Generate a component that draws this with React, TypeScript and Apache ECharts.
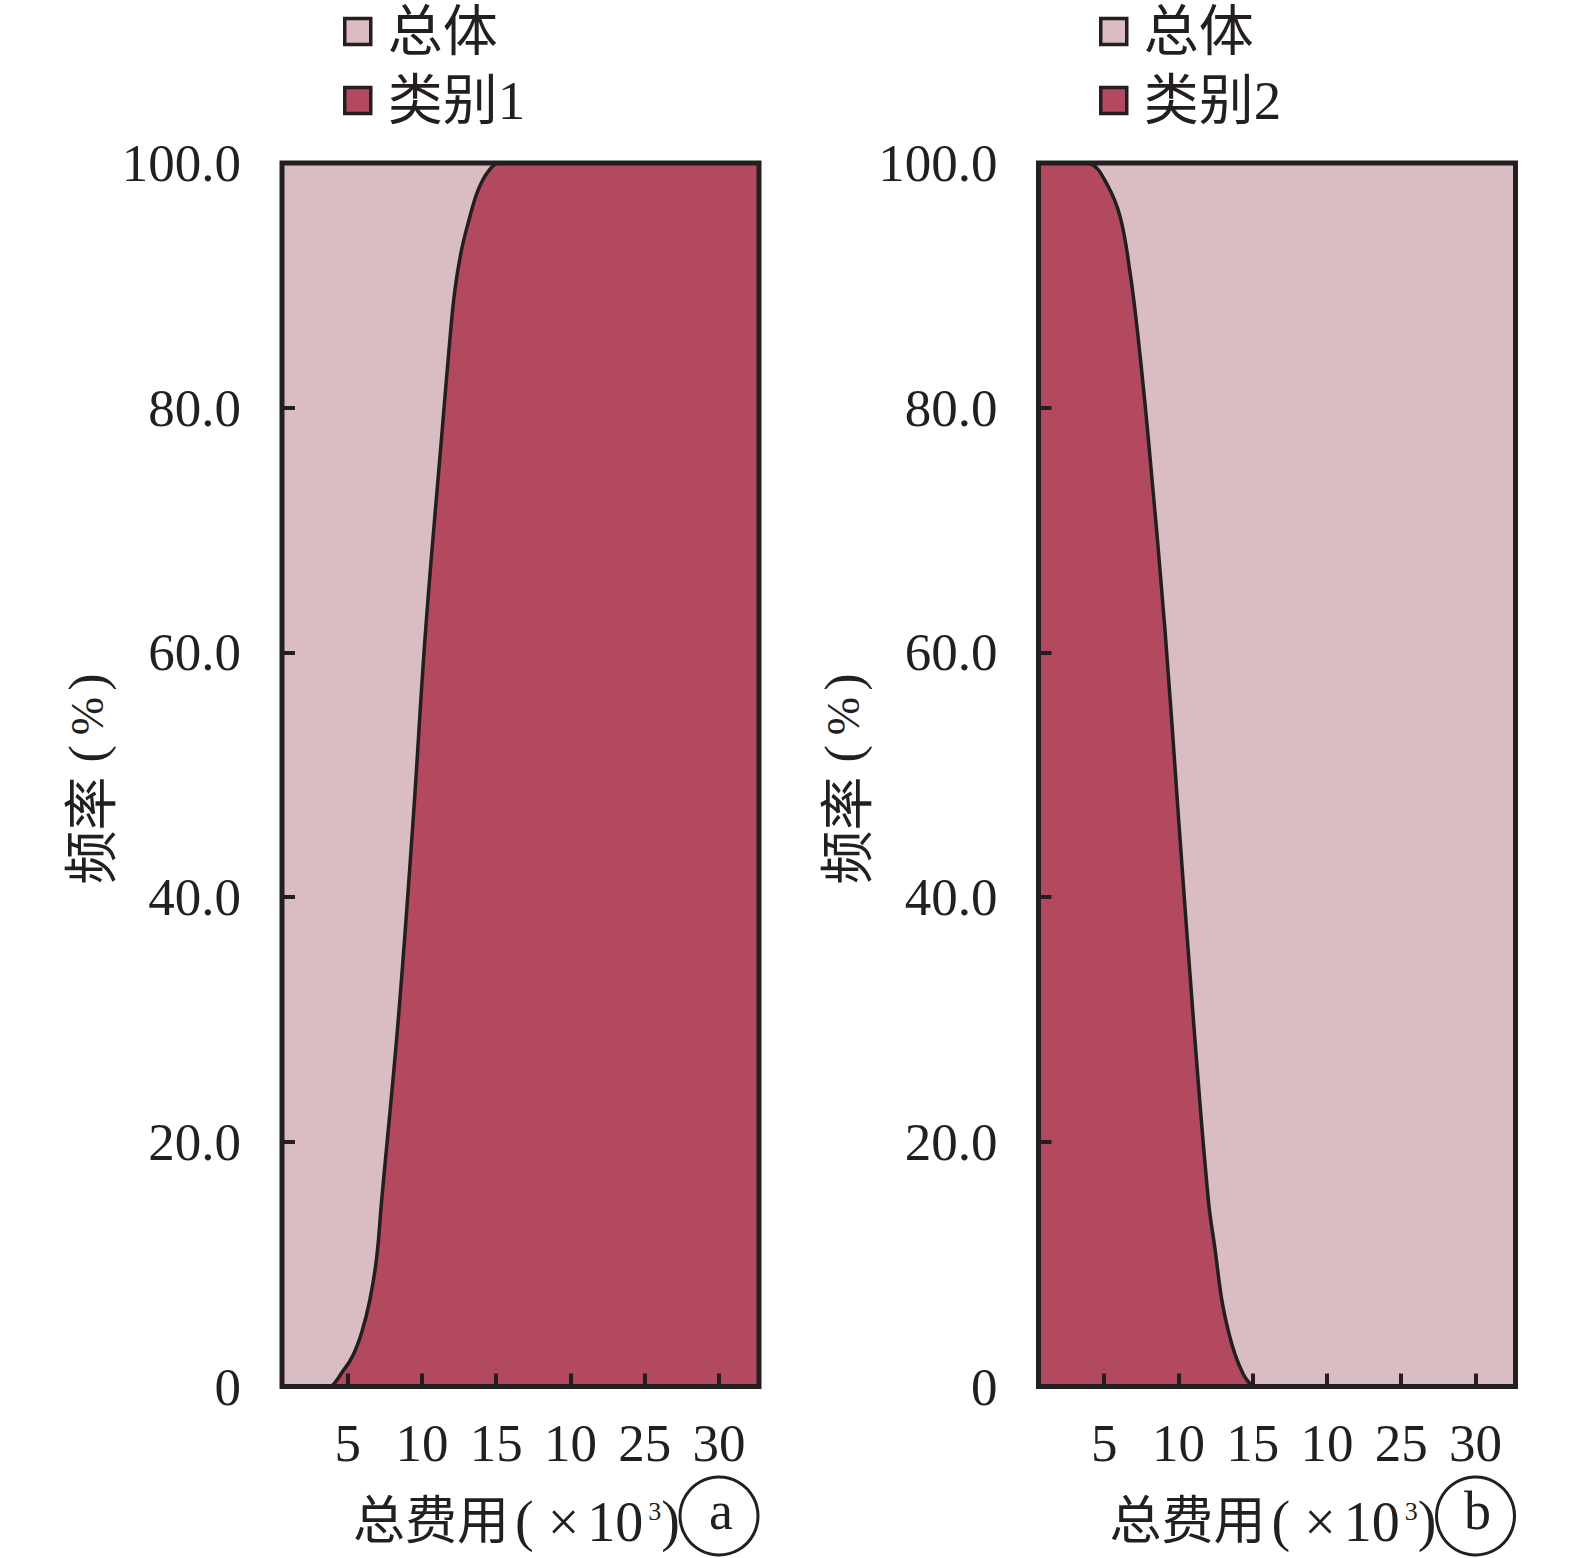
import React, { useEffect, useRef } from "react";
import * as echarts from "echarts";

// ---- data ----
const xTickValues = [5, 10, 15, 20, 25, 30];
const xTickLabels = ["5", "10", "15", "10", "25", "30"];
const yTickValues = [0, 20, 40, 60, 80, 100];
const legendNames1 = ["总体", "类别1"];
const legendNames2 = ["总体", "类别2"];
const xAxisTitle = "总费用";
const xUnitTimes = "×";
const xUnitBase = "10";
const xUnitExp = "3";
const yAxisTitle = "频率";
const yUnit = "%";
const panelTags = ["a", "b"];

// overall (background) series: 100% over the whole range
const overall: [number, number][] = [
  [0.58, 100],
  [32.7, 100],
];

// 类别1: cumulative share rising with cost
const cat1: [number, number][] = [
  [0.58, 0], [3.5, 0], [3.9, 0.05], [4.26, 0.5], [4.59, 1.1], [5.3, 2.4],
  [5.94, 4.4], [6.5, 7.1], [6.95, 10.5], [7.29, 15.2], [8.41, 30],
  [9.41, 46.3], [10.25, 61.8], [11.37, 78.2], [11.88, 85.5], [12.22, 89.6],
  [12.67, 92.9], [13.23, 95.6], [13.79, 97.8], [14.46, 99.3], [15.25, 100],
  [32.7, 100],
];

// 类别2: share falling with cost
const cat2: [number, number][] = [
  [0.58, 100], [3.6, 100], [4.06, 99.95], [5.18, 98.3], [6.08, 95.6],
  [6.75, 91.0], [7.31, 85.5], [7.98, 77.4], [9.1, 61.8], [10.02, 46.3],
  [11.01, 30], [12.02, 15.2], [12.47, 11.2], [12.92, 7.1], [13.37, 4.5],
  [13.82, 2.6], [14.37, 1.0], [14.83, 0.2], [15.0, 0], [32.7, 0],
];

const PINK = "#d9bdc3";
const CRIMSON = "#b3495e";
const INK = "#231f20";
const SERIF = "'Liberation Serif', 'Noto Sans CJK SC', serif";
const CJK = "'Noto Sans CJK SC', sans-serif";

export default function App() {
  const ref = useRef<HTMLDivElement>(null);
  useEffect(() => {
    if (!ref.current) return;
    const chart = echarts.init(ref.current, undefined, { renderer: "svg" });

    const panelLeft = [282, 1038.5];
    const gridW = 477;
    const gridTop = 163;
    const gridH = 1223.5;

    const grids = panelLeft.map((l) => ({
      left: l,
      top: gridTop,
      width: gridW,
      height: gridH,
      show: true,
      backgroundColor: "transparent",
      borderColor: INK,
      borderWidth: 5,
      z: 10,
    }));

    const labelMap: Record<number, string> = {};
    xTickValues.forEach((v, i) => (labelMap[v] = xTickLabels[i]));

    const xAxes = panelLeft.map((_, i) => ({
      type: "value",
      gridIndex: i,
      min: 0.58,
      max: 32.7,
      z: 11,
      splitLine: { show: false },
      axisLine: { show: false },
      axisTick: {
        show: true,
        inside: true,
        length: 13,
        lineStyle: { color: INK, width: 4 },
        customValues: xTickValues,
      },
      axisLabel: {
        show: true,
        margin: 30,
        customValues: xTickValues,
        formatter: (v: number) => labelMap[v] ?? "",
        fontFamily: SERIF,
        fontSize: 53,
        color: INK,
      },
    }));

    const yAxes = panelLeft.map((_, i) => ({
      type: "value",
      gridIndex: i,
      min: 0,
      max: 100,
      interval: 20,
      z: 11,
      splitLine: { show: false },
      axisLine: { show: false },
      axisTick: {
        show: true,
        inside: true,
        length: 13,
        lineStyle: { color: INK, width: 4 },
      },
      axisLabel: {
        show: true,
        margin: 41,
        formatter: (v: number) => (yTickValues.includes(v) ? (v === 0 ? "0" : v.toFixed(1)) : ""),
        fontFamily: SERIF,
        fontSize: 53,
        color: INK,
      },
    }));

    const mkOverall = (i: number) => ({
      name: legendNames1[0],
      type: "line",
      xAxisIndex: i,
      yAxisIndex: i,
      data: overall,
      symbol: "none",
      color: PINK,
      itemStyle: { color: PINK },
      lineStyle: { width: 0, color: PINK },
      areaStyle: { color: PINK, opacity: 1 },
      z: 2,
    });
    const mkCat = (i: number, name: string, data: [number, number][]) => ({
      name,
      type: "line",
      xAxisIndex: i,
      yAxisIndex: i,
      data,
      symbol: "none",
      smooth: 0.4,
      color: CRIMSON,
      itemStyle: { color: CRIMSON },
      lineStyle: { width: 3.5, color: INK },
      areaStyle: { color: CRIMSON, opacity: 1 },
      z: 3,
    });

    const legendCommon = {
      orient: "vertical",
      top: 4,
      padding: 0,
      icon: "rect",
      itemWidth: 26,
      itemHeight: 26,
      itemGap: 14,
      itemStyle: { borderColor: INK, borderWidth: 3.5 },
      formatter: (name: string) => `{t|${name}}`,
      textStyle: {
        fontFamily: SERIF,
        fontSize: 55,
        color: INK,
        rich: { t: { fontFamily: SERIF, fontSize: 55, color: INK, padding: [0, 0, 0, 12] } },
      },
      selectedMode: false,
    };

    const graphics: any[] = [];
    panelLeft.forEach((l, i) => {
      const dx = l - 282;
      // x-axis title as one rich text
      graphics.push({
        type: "text",
        x: 353 + dx,
        y: 1516,
        style: {
          text:
            `{c|${xAxisTitle}}{o|(}{m|${xUnitTimes}}{n|${xUnitBase}}` +
            `{p|${xUnitExp}}{q|)}`,
          align: "left",
          verticalAlign: "middle",
          fill: INK,
          rich: {
            c: { fontFamily: CJK, fontSize: 52, fill: INK },
            o: { fontFamily: SERIF, fontSize: 56, fill: INK, padding: [10, 0, 0, 6] },
            m: { fontFamily: SERIF, fontSize: 56, fill: INK, padding: [12, 0, 0, 14] },
            n: { fontFamily: SERIF, fontSize: 56, fill: INK, padding: [12, 0, 0, 8] },
            p: { fontFamily: SERIF, fontSize: 26, fill: INK, padding: [0, 0, 10, 5] },
            q: { fontFamily: SERIF, fontSize: 56, fill: INK, padding: [10, 0, 0, 0] },
          },
        },
      });
      // circled tag
      graphics.push({
        type: "circle",
        shape: { cx: 719 + dx, cy: 1516, r: 39 },
        style: { fill: "none", stroke: INK, lineWidth: 3 },
      });
      graphics.push({
        type: "text",
        x: 721 + dx,
        y: 1511,
        style: {
          text: panelTags[i],
          align: "center",
          verticalAlign: "middle",
          fontFamily: SERIF,
          fontSize: 54,
          fill: INK,
        },
      });
      // y-axis title (rotated, reads bottom to top)
      graphics.push({
        type: "text",
        x: 87 + dx,
        y: 779,
        rotation: Math.PI / 2,
        style: {
          text: `{c|${yAxisTitle}}{o|(}{s|${yUnit}}{q|)}`,
          align: "center",
          verticalAlign: "middle",
          fill: INK,
          rich: {
            c: { fontFamily: CJK, fontSize: 54, fill: INK },
            o: { fontFamily: SERIF, fontSize: 52, fill: INK, padding: [0, 0, 0, 14] },
            s: { fontFamily: SERIF, fontSize: 46, fill: INK, padding: [0, 0, 0, 10] },
            q: { fontFamily: SERIF, fontSize: 52, fill: INK, padding: [0, 0, 0, 6] },
          },
        },
      });
    });

    chart.setOption({
      animation: false,
      backgroundColor: "#ffffff",
      grid: grids,
      xAxis: xAxes,
      yAxis: yAxes,
      legend: [
        { ...legendCommon, left: 343, data: legendNames1 },
        { ...legendCommon, left: 1099, data: legendNames2 },
      ],
      series: [
        mkOverall(0),
        mkCat(0, legendNames1[1], cat1),
        mkOverall(1),
        mkCat(1, legendNames2[1], cat2),
      ],
      graphic: graphics,
    } as any);

    return () => chart.dispose();
  }, []);

  return (
    <div
      ref={ref}
      style={{ position: "absolute", left: 0, top: 0, width: 1575, height: 1558 }}
    />
  );
}
